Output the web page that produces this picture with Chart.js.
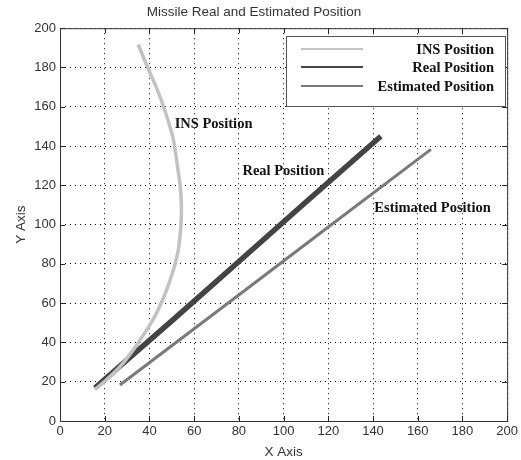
<!DOCTYPE html>
<html>
<head>
<meta charset="utf-8">
<script src="https://cdn.jsdelivr.net/npm/chart.js@4/dist/chart.umd.min.js"></script>
<style>
  html, body { margin: 0; padding: 0; background: #fff; }
  #wrap { width: 521px; height: 460px; }
</style>
</head>
<body>
<div id="wrap"><canvas id="missile"></canvas></div>
<script>
// valores
const insX = [15.6, 20.8, 26.8, 32.7, 38.0, 42.3, 46.0, 49.0, 51.5, 53.3, 54.3, 53.9, 52.5, 50.6, 47.6, 43.9, 39.4, 35.0]
const insY = [16.0, 21.0, 27.6, 36.1, 45.0, 53.0, 62.0, 71.0, 80.0, 90.0, 105.0, 118.0, 130.0, 143.9, 155.7, 167.6, 179.5, 191.7]

const realX = [15.6, 50, 80.4, 110, 143.5]
const realY = [16.8, 51, 81.6, 111.5, 145]

const estX = [26.8, 60, 80.4, 120, 165.9]
const estY = [18.3, 47, 64.5, 98.8, 138.3]

const seriesNames = ['INS Position', 'Real Position', 'Estimated Position']
const axisTicks = [0, 20, 40, 60, 80, 100, 120, 140, 160, 180, 200]

const pts = (xs, ys) => xs.map((x, i) => ({ x, y: ys[i] }))

Chart.defaults.font.family = "'Liberation Sans', Arial, sans-serif"
Chart.defaults.color = '#333'

const serif = "bold 14.5px 'Liberation Serif', 'Times New Roman', serif"

// legenda e rótulos no estilo do matlab
const decor = {
  id: 'decor',
  afterDraw(chart) {
    const c = chart.ctx
    const xs = chart.scales.x, ys = chart.scales.y
    const a = chart.chartArea
    c.save()
    // marcas de escala para dentro
    c.strokeStyle = '#222'
    c.lineWidth = 1
    c.beginPath()
    axisTicks.forEach(v => {
      const px = Math.round(xs.getPixelForValue(v)) + 0.5
      c.moveTo(px, a.bottom); c.lineTo(px, a.bottom - 5)
      c.moveTo(px, a.top); c.lineTo(px, a.top + 5)
      const py = Math.round(ys.getPixelForValue(v)) + 0.5
      c.moveTo(a.left, py); c.lineTo(a.left + 5, py)
      c.moveTo(a.right, py); c.lineTo(a.right - 5, py)
    })
    c.stroke()
    c.strokeStyle = '#333'
    c.strokeRect(a.left + 0.5, a.top + 0.5, a.right - a.left, a.bottom - a.top)

    // caixa da legenda
    const bx = 286, by = 36, bw = 219, bh = 70
    c.fillStyle = '#fff'
    c.fillRect(bx, by, bw, bh)
    c.strokeStyle = '#555'
    c.lineWidth = 1
    c.strokeRect(bx + 0.5, by + 0.5, bw, bh)
    c.font = serif
    c.textAlign = 'right'
    c.textBaseline = 'middle'
    const rows = [49, 67, 86]
    chart.data.datasets.forEach((ds, i) => {
      c.strokeStyle = ds.borderColor
      c.lineWidth = 2
      c.beginPath()
      c.moveTo(301, rows[i]); c.lineTo(363, rows[i])
      c.stroke()
      c.fillStyle = '#111'
      c.fillText(ds.label, 494, rows[i] + 1)
    })

    // rótulos junto das curvas
    const notes = [
      { text: seriesNames[0], x: 51.3, y: 151.2 },
      { text: seriesNames[1], x: 81.6, y: 127.4 },
      { text: seriesNames[2], x: 140.6, y: 108.4 }
    ]
    c.textAlign = 'left'
    c.fillStyle = '#111'
    notes.forEach(n => c.fillText(n.text, xs.getPixelForValue(n.x), ys.getPixelForValue(n.y)))
    c.restore()
  }
}

const gridStyle = {
  color: '#000',
  lineWidth: 1,
  tickLength: 0,
  drawTicks: false
}

const config = {
  type: 'scatter',
  data: {
    datasets: [{
      label: seriesNames[0],
      data: pts(insX, insY),
      showLine: true,
      borderColor: '#c2c2c2',
      borderWidth: 3.5,
      pointRadius: 0,
      tension: 0.3
    }, {
      label: seriesNames[1],
      data: pts(realX, realY),
      showLine: true,
      borderColor: '#444',
      borderWidth: 5.5,
      pointRadius: 0
    }, {
      label: seriesNames[2],
      data: pts(estX, estY),
      showLine: true,
      borderColor: '#7a7a7a',
      borderWidth: 3,
      pointRadius: 0
    }]
  },
  options: {
    responsive: false,
    animation: false,
    layout: { padding: { top: 0, right: 13, left: 0, bottom: 0 } },
    plugins: {
      legend: { display: false },
      tooltip: { enabled: false },
      title: {
        display: true,
        text: 'Missile Real and Estimated Position',
        color: '#333',
        font: { size: 13.5, weight: 'normal' },
        padding: { top: 4, bottom: 8 }
      }
    },
    scales: {
      x: {
        type: 'linear',
        min: 0, max: 200,
        afterBuildTicks: s => { s.ticks = axisTicks.map(v => ({ value: v })) },
        afterFit: s => { s.height = 39 },
        grid: gridStyle,
        border: { display: false, dash: [1, 4] },
        ticks: { padding: 3, font: { size: 13 }, color: '#333', maxRotation: 0 },
        title: { display: true, text: 'X Axis', color: '#333', font: { size: 13.5 }, padding: { top: 0, bottom: 0 } }
      },
      y: {
        type: 'linear',
        min: 0, max: 200,
        afterBuildTicks: s => { s.ticks = axisTicks.map(v => ({ value: v })) },
        afterFit: s => { s.width = 60 },
        grid: gridStyle,
        border: { display: false, dash: [1, 4] },
        ticks: { padding: 4, font: { size: 13 }, color: '#333' },
        title: { display: true, text: 'Y Axis', color: '#333', font: { size: 13.5 }, padding: { top: 13, bottom: 0 } }
      }
    }
  },
  plugins: [decor]
}

const canvas = document.getElementById('missile')
canvas.width = 521
canvas.height = 460
new Chart(canvas, config)
</script>
</body>
</html>
